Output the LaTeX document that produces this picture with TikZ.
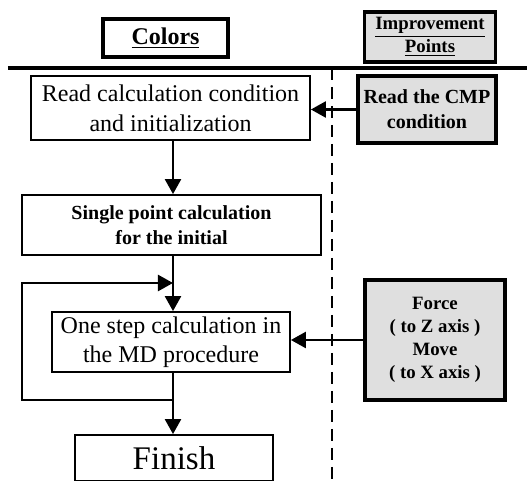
\documentclass[tikz,border=0pt]{standalone}
\usepackage{fontspec}
\setmainfont{Liberation Serif}
\usetikzlibrary{arrows.meta}
\tikzset{
  plainbox/.style={draw, line width=0.9pt, fill=white, align=center, inner sep=0pt},
  headbox/.style={draw, line width=1.6pt, align=center, inner sep=0pt, font=\bfseries},
  graybox/.style={draw, line width=1.6pt, fill=gray!25, align=center, inner sep=0pt,
    font=\bfseries\fontsize{9.4}{11.5}\selectfont},
  flow/.style={line width=1.2pt, -{Triangle[length=7.5pt,width=8pt]}},
}
\begin{document}
\begin{tikzpicture}[x=0.5pt, y=-0.5pt]
\useasboundingbox (0,0) rectangle (527,481);
% header
\node[headbox, minimum width=62.5pt, minimum height=19pt, font=\bfseries\fontsize{12}{14}\selectfont] (colors) at (165.5,38) {\underline{Colors}};
\node[graybox, minimum width=65.5pt, minimum height=25pt] (improve) at (430,37) {\underline{Improvement}\\\underline{Points}};
\draw[line width=1.6pt] (8,68) -- (527,68);
\draw[line width=1.1pt, dash pattern=on 6pt off 3.5pt] (332,68) -- (332,481);
% main flow
\coordinate (spine) at (173,0);
\node[plainbox, minimum width=139.5pt, minimum height=32pt, font=\fontsize{12}{15}\selectfont] (read) at (170.5,108) {Read calculation condition\\and initialization};
\node[plainbox, minimum width=149.5pt, minimum height=30pt, font=\bfseries\fontsize{10}{12.5}\selectfont] (single) at (171.5,225) {Single point calculation\\for the initial};
\node[plainbox, minimum width=119pt, minimum height=30pt, font=\fontsize{12}{14.5}\selectfont] (onestep) at (171,342) {One step calculation in\\the MD procedure};
\node[plainbox, minimum width=99pt, minimum height=23pt, font=\fontsize{16.5}{18}\selectfont] (finish) at (174,458) {Finish};
% improvement points
\node[graybox, minimum width=69pt, minimum height=33.5pt, font=\bfseries\fontsize{10}{12.5}\selectfont] (cmp) at (427,109.5) {Read the CMP\\condition};
\node[graybox, minimum width=70pt, minimum height=60pt] (force) at (435,340) {Force\\( to Z axis )\\Move\\( to X axis )};
% connectors
\coordinate (join) at (173,283);
\coordinate (split) at (173,400);
\draw[flow] (read.south -| spine) -- (single.north -| spine);
\draw[flow] (single.south -| spine) -- (onestep.north -| spine);
\draw[flow] (onestep.south -| spine) -- (finish.north -| spine);
\draw[flow] (split) -- (22,400) -- (22,283) -- (join);
\draw[flow] (cmp.west) -- (cmp.west -| read.east);
\draw[flow] (force.west) -- (force.west -| onestep.east);
\end{tikzpicture}
\end{document}
